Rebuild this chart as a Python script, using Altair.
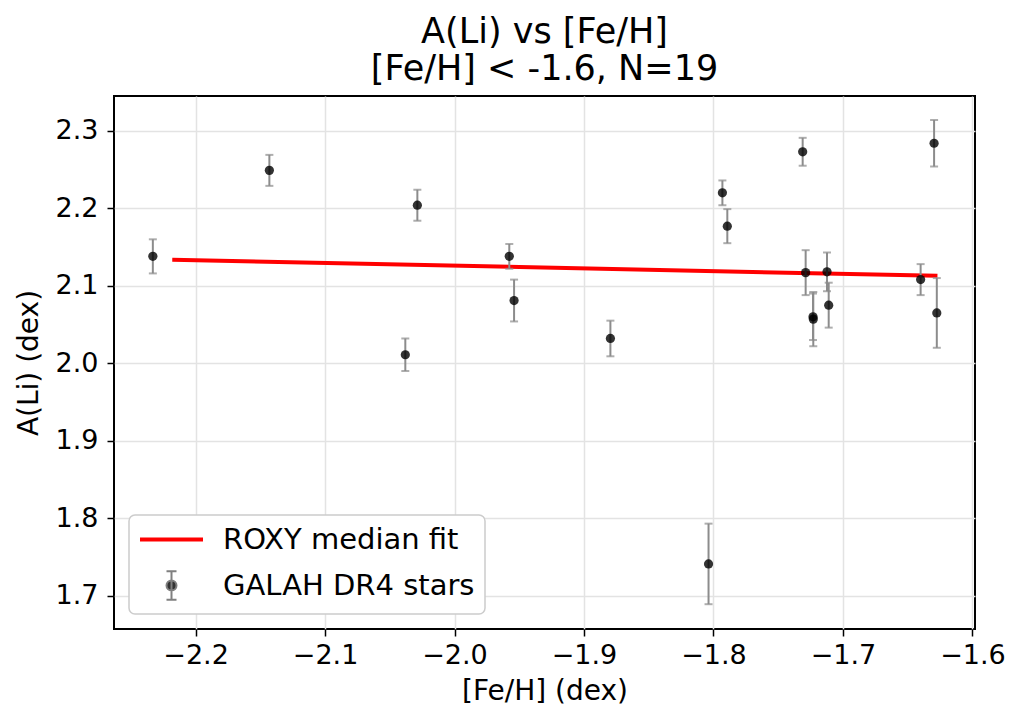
import altair as alt
import pandas as pd

# ---- data ----
feh = [-2.233, -2.143, -2.0287, -2.038, -1.9577, -1.954, -1.8796, -1.7931, -1.7893,
       -1.7311, -1.7288, -1.7231, -1.7229, -1.7123, -1.711, -1.640, -1.6296, -1.6275, -1.8038]
ali = [2.138, 2.249, 2.204, 2.011, 2.138, 2.081, 2.032, 2.220, 2.177,
       2.273, 2.117, 2.060, 2.057, 2.118, 2.075, 2.108, 2.284, 2.065, 1.741]
ali_err = [0.022, 0.020, 0.020, 0.021, 0.016, 0.027, 0.023, 0.016, 0.022,
           0.018, 0.029, 0.030, 0.035, 0.025, 0.029, 0.020, 0.030, 0.045, 0.052]
fit_feh = [-2.218, -1.627]
fit_ali = [2.1336, 2.1129]
series = ["ROXY median fit", "GALAH DR4 stars"]
x_ticks = [-2.2, -2.1, -2.0, -1.9, -1.8, -1.7, -1.6]
y_ticks = [1.7, 1.8, 1.9, 2.0, 2.1, 2.2, 2.3]

stars = pd.DataFrame({"feh": feh, "ali": ali, "err": ali_err})
stars["low"] = stars["ali"] - stars["err"]
stars["high"] = stars["ali"] + stars["err"]
fit = pd.DataFrame({"feh": fit_feh, "ali": fit_ali})
leg = pd.DataFrame({"series": series})

FONT = "DejaVu Sans"
x_scale = alt.Scale(domain=[-2.263, -1.598], nice=False, zero=False)
y_scale = alt.Scale(domain=[1.657, 2.345], nice=False, zero=False)
x_axis = alt.Axis(values=x_ticks, format=".1f", title="[Fe/H] (dex)",
                  labelPadding=6, titlePadding=9)
y_axis = alt.Axis(values=y_ticks, format=".1f", title="A(Li) (dex)",
                  labelPadding=9, titlePadding=12)


def X(field):
    return alt.X(field, type="quantitative", scale=x_scale, axis=x_axis)


def Y(field):
    return alt.Y(field, type="quantitative", scale=y_scale, axis=y_axis)


line = alt.Chart(fit).mark_line(color="#ff0000", strokeWidth=4).encode(
    x=X("feh"), y=Y("ali"))

bars = alt.Chart(stars).mark_rule(color="#8c8c8c", strokeWidth=2).encode(
    x=X("feh"), y=Y("low"), y2="high")

caps_lo = alt.Chart(stars).mark_tick(color="#8c8c8c", orient="horizontal",
                                     size=8, thickness=2).encode(
    x=X("feh"), y=Y("low"))
caps_hi = alt.Chart(stars).mark_tick(color="#8c8c8c", orient="horizontal",
                                     size=8, thickness=2).encode(
    x=X("feh"), y=Y("high"))

points = alt.Chart(stars).mark_circle(size=85, color="black", opacity=0.8).encode(
    x=X("feh"), y=Y("ali"))

# legend symbols (custom paths, unit = sqrt(symbolSize)/2 px)
path_line = "M-6.3,0L6.3,0"
path_err = ("M0,-2.86L0,2.86M-1,-2.86L1,-2.86M-1,2.86L1,2.86"
            "M-1,0A1,1 0 1,1 1,0A1,1 0 1,1 -1,0Z")

legend_layer = alt.Chart(leg).transform_filter("false").mark_point(
    filled=True, fill="#333333", opacity=1).encode(
    stroke=alt.Stroke("series:N",
                      scale=alt.Scale(domain=series, range=["#ff0000", "#808080"]),
                      legend=alt.Legend(title=None)),
    strokeWidth=alt.StrokeWidth("series:N",
                                scale=alt.Scale(type="point", domain=series,
                                                range=[4, 2], padding=0),
                                legend=alt.Legend(title=None)),
    shape=alt.Shape("series:N",
                    scale=alt.Scale(domain=series, range=[path_line, path_err]),
                    legend=alt.Legend(title=None)),
)

chart = alt.layer(line, bars, caps_lo, caps_hi, points, legend_layer).properties(
    width=861,
    height=533,
    title=alt.Title(["A(Li) vs [Fe/H]", "[Fe/H] < -1.6, N=19"],
                    fontSize=35, font=FONT, fontWeight="normal", color="black",
                    lineHeight=37.5, offset=-26, baseline="bottom", anchor="middle"),
    padding={"left": 106, "top": 88, "right": 40, "bottom": 87},
    autosize=alt.AutoSizeParams(type="none"),
).configure_view(
    stroke="black", strokeWidth=2
).configure_axis(
    labelFont=FONT, labelFontSize=27, labelColor="black",
    titleFont=FONT, titleFontSize=28, titleFontWeight="normal", titleColor="black",
    tickColor="black", tickSize=7, tickWidth=1.5,
    domain=False, grid=True, gridColor="#e3e3e3", gridWidth=1.5,
).configure_legend(
    orient="bottom-left", offset=15, padding=10,
    labelFont=FONT, labelFontSize=29, labelColor="black", labelLimit=600,
    symbolSize=100, symbolOffset=18, labelOffset=37, rowPadding=12,
    strokeColor="#cccccc", strokeWidth=1.5, cornerRadius=6, fillColor="white",
)

chart.save("out.html", embed_options={"renderer": "svg", "actions": False})
